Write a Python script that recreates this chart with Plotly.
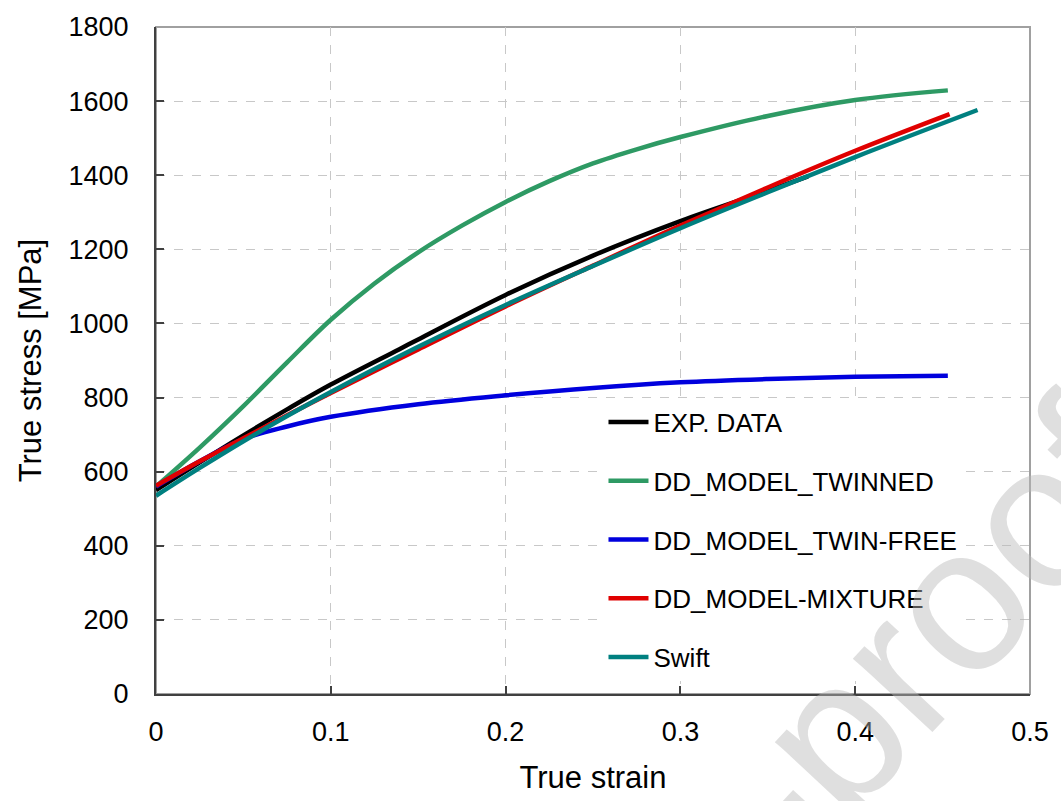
import plotly.graph_objects as go

# True strain / true stress curves
exp_strain = [0.0, 0.025, 0.05, 0.075, 0.1, 0.139, 0.15, 0.2, 0.25, 0.3, 0.35, 0.373]
exp_stress = [550, 625, 698, 768, 835, 930, 957, 1077, 1183, 1276, 1358, 1397]

twinned_strain = [0.0, 0.025, 0.05, 0.075, 0.1, 0.125, 0.15, 0.175, 0.2, 0.225, 0.25, 0.275,
                  0.3, 0.35, 0.4, 0.453]
twinned_stress = [560, 665, 777, 895, 1010, 1108, 1192, 1264, 1328, 1384, 1432, 1470,
                  1503, 1560, 1603, 1629]

twinfree_strain = [0.0, 0.025, 0.05, 0.075, 0.1, 0.15, 0.2, 0.25, 0.3, 0.35, 0.4, 0.453]
twinfree_stress = [560, 628, 688, 722, 748, 782, 806, 826, 841, 850, 856, 859]

mixture_strain = [0.0, 0.025, 0.05, 0.075, 0.1, 0.15, 0.2, 0.25, 0.3, 0.35, 0.4, 0.454]
mixture_stress = [562, 628, 690, 752, 812, 930, 1046, 1156, 1264, 1367, 1466, 1565]

swift_strain = [0.0, 0.025, 0.05, 0.075, 0.1, 0.15, 0.2, 0.25, 0.3, 0.35, 0.4, 0.47]
swift_stress = [535, 610, 682, 750, 815, 937, 1050, 1155, 1257, 1354, 1449, 1576]

series = [
    ("EXP. DATA", exp_strain, exp_stress, "#000000"),
    ("DD_MODEL_TWINNED", twinned_strain, twinned_stress, "#2E9A64"),
    ("DD_MODEL_TWIN-FREE", twinfree_strain, twinfree_stress, "#0000DD"),
    ("DD_MODEL-MIXTURE", mixture_strain, mixture_stress, "#E00000"),
    ("Swift", swift_strain, swift_stress, "#008080"),
]

x_ticks = [0, 0.1, 0.2, 0.3, 0.4, 0.5]
y_ticks = [0, 200, 400, 600, 800, 1000, 1200, 1400, 1600, 1800]

FONT = "Liberation Sans, Arial, sans-serif"

fig = go.Figure()
for name, xs, ys, color in series:
    fig.add_trace(go.Scatter(
        x=xs, y=ys, mode="lines", name=name, legendgroup=name,
        line=dict(color=color, width=4.5, shape="spline", smoothing=1.0),
    ))

axis_common = dict(
    showline=True, linecolor="#404040", linewidth=2,
    ticks="inside", ticklen=8, tickwidth=1.5, tickcolor="#404040",
    showgrid=True, gridcolor="#C8C8C8", gridwidth=1, griddash="dash",
    zeroline=False, tickfont=dict(family=FONT, size=27, color="#000000"),
)

fig.update_xaxes(
    range=[0, 0.5], tickvals=x_ticks, ticktext=[f"{v:g}" for v in x_ticks],
    ticklabelstandoff=13,
    title=dict(text="True strain", font=dict(family=FONT, size=31, color="#000000"),
               standoff=20),
    **axis_common,
)
fig.update_yaxes(
    range=[0, 1800], tickvals=y_ticks, ticktext=[str(v) for v in y_ticks],
    ticklabelstandoff=20,
    title=dict(text="True stress [MPa]", font=dict(family=FONT, size=31, color="#000000"),
               standoff=18),
    **axis_common,
)

# light plot-area frame (top and right edges)
fig.add_shape(type="rect", xref="paper", yref="paper", x0=0, y0=0, x1=1, y1=1,
              line=dict(color="#A0A0A0", width=2), layer="below")

# journal watermark
fig.add_annotation(
    text="Journal Pre-proof", xref="paper", yref="paper", x=0.475, y=-0.480,
    showarrow=False, textangle=-47, xanchor="center", yanchor="middle",
    font=dict(family=FONT, size=205, color="rgba(185,185,185,0.45)"),
)

fig.update_layout(
    width=1061, height=801,
    margin=dict(l=156, r=28, t=22, b=104),
    paper_bgcolor="white", plot_bgcolor="white",
    font=dict(family=FONT, color="#000000"),
    legend=dict(
        x=0.512, y=0.443, xanchor="left", yanchor="top",
        bgcolor="white", borderwidth=0,
        font=dict(family=FONT, size=26, color="#000000"),
        tracegroupgap=22, itemwidth=40,
    ),
    showlegend=True,
)

fig.write_html("out.html")
